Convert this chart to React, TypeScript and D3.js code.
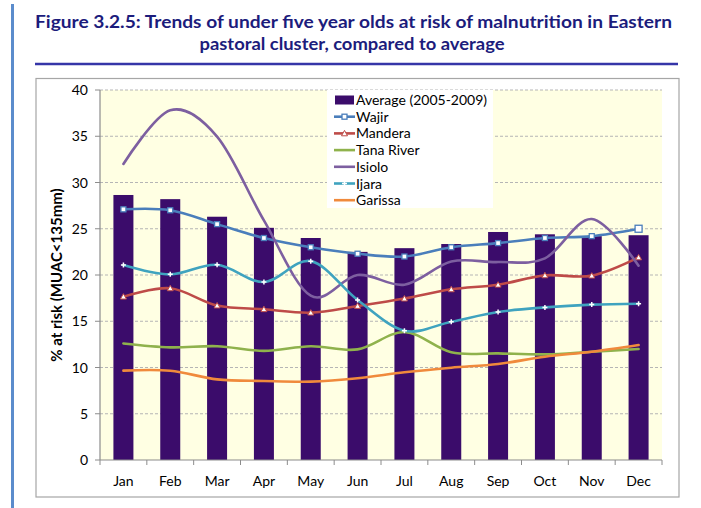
import React from "react";
import * as d3 from "d3";

const months = ["Jan", "Feb", "Mar", "Apr", "May", "Jun", "Jul", "Aug", "Sep", "Oct", "Nov", "Dec"];
const average = [28.65, 28.2, 26.3, 25.1, 24.0, 22.5, 22.9, 23.35, 24.65, 24.4, 24.2, 24.3];
const wajir = [27.1, 27.0, 25.5, 24.0, 23.0, 22.3, 22.0, 23.0, 23.45, 24.0, 24.2, 25.0];
const mandera = [17.66, 18.56, 16.7, 16.3, 15.93, 16.65, 17.45, 18.45, 18.95, 19.96, 19.93, 21.9];
const tanaRiver = [12.6, 12.18, 12.3, 11.8, 12.3, 11.96, 13.84, 11.64, 11.53, 11.42, 11.7, 12.0];
const isiolo = [32.0, 37.8, 34.96, 25.9, 17.76, 20.0, 18.95, 21.45, 21.4, 21.8, 26.05, 21.0];
const ijara = [21.08, 20.07, 21.1, 19.24, 21.5, 17.3, 13.98, 14.95, 16.0, 16.5, 16.8, 16.9];
const garissa = [9.66, 9.65, 8.72, 8.54, 8.47, 8.83, 9.48, 9.98, 10.38, 11.17, 11.71, 12.43];
const yTicks = [0, 5, 10, 15, 20, 25, 30, 35, 40];

const series = [
  { name: "Wajir", values: wajir, color: "#4a7ebb", marker: "square" },
  { name: "Mandera", values: mandera, color: "#be4b48", marker: "triangle" },
  { name: "Tana River", values: tanaRiver, color: "#8fb24c", marker: "none" },
  { name: "Isiolo", values: isiolo, color: "#7d5fa0", marker: "none" },
  { name: "Ijara", values: ijara, color: "#3fa3bf", marker: "diamond" },
  { name: "Garissa", values: garissa, color: "#f08a3c", marker: "none" },
];

const FONT = "Lato, 'Open Sans', sans-serif";

function Marker({ type, x, y, color, big }: { type: string; x: number; y: number; color: string; big?: boolean }) {
  if (type === "square") {
    const s = big ? 7 : 5;
    return <rect x={x - s / 2} y={y - s / 2} width={s} height={s} fill="#fff" stroke={color} strokeWidth={1.3} />;
  }
  if (type === "triangle") {
    const s = 3;
    return (
      <path d={`M${x},${y - s} L${x + s},${y + s * 0.8} L${x - s},${y + s * 0.8} Z`} fill="#fff" stroke={color} strokeWidth={1} />
    );
  }
  if (type === "diamond") {
    return (
      <path d={`M${x - 2.5},${y} L${x + 2.5},${y} M${x},${y - 2.5} L${x},${y + 2.5}`} stroke="#fff" strokeWidth={1.5} />
    );
  }
  return null;
}

export default function App() {
  const left = 100, right = 662, top = 90, bottom = 460;
  const x = d3.scaleBand<string>().domain(months).range([left, right]).paddingInner(0).paddingOuter(0);
  const y = d3.scaleLinear().domain([0, 40]).range([bottom, top]);
  const bw = 20;
  const cx = (m: string) => (x(m) as number) + x.bandwidth() / 2;
  const line = d3
    .line<number>()
    .x((_, i) => cx(months[i]))
    .y((v) => y(v))
    .curve(d3.curveCatmullRom.alpha(0));

  const legendItems = [{ name: "Average (2005-2009)", color: "#3b0c6b", marker: "bar" }, ...series];

  return (
    <svg width={701} height={508} style={{ position: "absolute", left: 0, top: 0 }} fontFamily={FONT}>
      <rect x={0} y={0} width={701} height={508} fill="#fff" />
      {/* page frame */}
      <line x1={12.5} y1={4} x2={12.5} y2={508} stroke="#5b8ccc" strokeWidth={3} />
      <text x={353.5} y={28} textAnchor="middle" fontSize={16.5} fontWeight="bold" fill="#1c1c7c" textLength={637} lengthAdjust="spacingAndGlyphs">
        Figure 3.2.5: Trends of under five year olds at risk of malnutrition  in Eastern
      </text>
      <text x={352} y={50} textAnchor="middle" fontSize={16.5} fontWeight="bold" fill="#1c1c7c" textLength={305} lengthAdjust="spacingAndGlyphs">
        pastoral cluster, compared to average
      </text>
      <line x1={35} y1={64} x2={678} y2={64} stroke="#3535a8" strokeWidth={2.5} />
      {/* chart box */}
      <rect x={36} y={78.5} width={643} height={418.5} fill="#fff" stroke="#a6a6a6" strokeWidth={1.2} />
      {/* plot area */}
      <rect x={left} y={top} width={right - left} height={bottom - top} fill="#ffffe3" />
      {yTicks.slice(1).map((t) => (
        <line key={t} x1={left} x2={right} y1={y(t)} y2={y(t)} stroke="#b5b5b5" strokeDasharray="3,2" strokeWidth={1} />
      ))}
      {/* bars */}
      {average.map((v, i) => (
        <rect key={i} x={cx(months[i]) - bw / 2} y={y(v)} width={bw} height={bottom - y(v)} fill="#3b0c6b" />
      ))}
      {/* lines */}
      {series.map((s) => (
        <g key={s.name}>
          <path d={line(s.values) || ""} fill="none" stroke={s.color} strokeWidth={2.6} strokeLinecap="round" />
          {s.values.map((v, i) => (
            <Marker key={i} type={s.marker} x={cx(months[i])} y={y(v)} color={s.color} big={s.name === "Wajir" && i === 11} />
          ))}
        </g>
      ))}
      {/* axes */}
      <line x1={left} x2={left} y1={top} y2={bottom} stroke="#8c8c8c" strokeWidth={1.2} />
      {yTicks.map((t) => (
        <g key={t}>
          <line x1={left - 5} x2={left} y1={y(t)} y2={y(t)} stroke="#8c8c8c" strokeWidth={1} />
          <text x={88} y={y(t) + 5} textAnchor="end" fontSize={14} fill="#000">
            {t}
          </text>
        </g>
      ))}
      <line x1={left} x2={right} y1={bottom} y2={bottom} stroke="#8c8c8c" strokeWidth={1.2} />
      {months.map((m) => (
        <line key={m} x1={x(m) as number} x2={x(m) as number} y1={bottom} y2={bottom + 5} stroke="#8c8c8c" />
      ))}
      <line x1={right} x2={right} y1={bottom} y2={bottom + 5} stroke="#8c8c8c" />
      {months.map((m) => (
        <text key={m} x={cx(m)} y={486} textAnchor="middle" fontSize={14} fill="#000">
          {m}
        </text>
      ))}
      <text transform={`translate(62,275) rotate(-90)`} textAnchor="middle" fontSize={15} fontWeight="bold" fill="#000">
        % at risk (MUAC&lt;135mm)
      </text>
      {/* legend */}
      <rect x={327} y={90} width={166} height={118} fill="#fff" />
      {legendItems.map((it, i) => {
        const ly = 100 + i * 16.7;
        return (
          <g key={it.name}>
            {it.marker === "bar" ? (
              <rect x={335} y={ly - 4.5} width={19} height={9} fill={it.color} />
            ) : (
              <>
                <line x1={334} x2={355} y1={ly} y2={ly} stroke={it.color} strokeWidth={2.6} />
                <Marker type={it.marker} x={344.5} y={ly} color={it.color} />
              </>
            )}
            <text x={356} y={ly + 5} fontSize={14} fill="#000">
              {it.name}
            </text>
          </g>
        );
      })}
    </svg>
  );
}
